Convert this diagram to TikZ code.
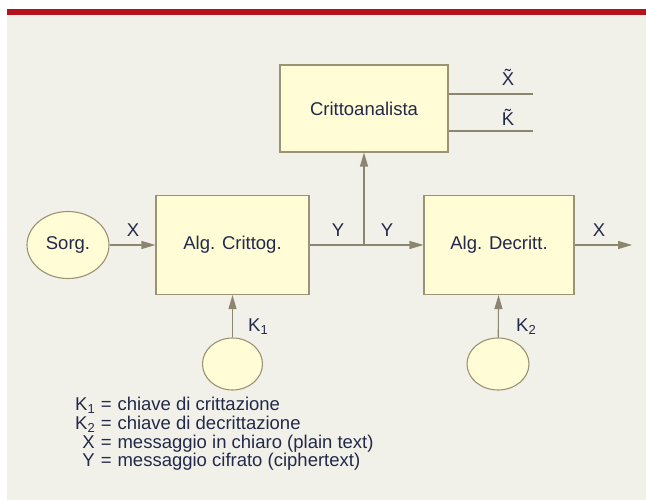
\documentclass[tikz,border=0pt]{standalone}
\usepackage{fontspec}
\setmainfont{Liberation Sans}
\usetikzlibrary{shapes.geometric, arrows.meta, positioning}
\definecolor{barred}{HTML}{B5121B}
\definecolor{panel}{HTML}{F2F1E9}
\definecolor{boxfill}{HTML}{FFFCD6}
\definecolor{boxline}{HTML}{9C9274}
\definecolor{wire}{HTML}{8C8670}
\definecolor{ink}{HTML}{23294A}
\newcommand{\sub}[1]{\raisebox{-0.3ex}{\fontsize{13}{13}\selectfont #1}}

\begin{document}
\begin{tikzpicture}[x=1pt, y=-1pt, font=\fontsize{18.5}{20}\selectfont, text=ink]
		\tikzstyle{Block} = [rectangle, draw=boxline, fill=boxfill, line width=1.1pt, text centered]
		\tikzstyle{Source} = [ellipse, draw=boxline, fill=boxfill, line width=1.1pt, inner sep=0pt]
		\tikzstyle{wire} = [draw=wire, line width=1.1pt]
		\tikzstyle{arrow} = [wire, -{Triangle[length=14pt, width=8pt]}]
		
		% background
		\useasboundingbox (0,0) rectangle (646,500);
		\fill [white] (0,0) rectangle (646,500);
		\fill [panel] (7,15) rectangle (646,500);
		\fill [barred] (7,9) rectangle (646,15);
		
		\node (sorg) [Source, minimum width=82pt, minimum height=67pt] at (68,245) {Sorg.};
		\node (critt) [Block, minimum width=153pt, minimum height=99pt] at (232.5,245) {Alg. Crittog.};
		\node (decr) [Block, minimum width=150pt, minimum height=99pt] at (499,245) {Alg. Decritt.};
		\node (anal) [Block, minimum width=168pt, minimum height=87pt] at (364,108.5) {Crittoanalista};
		\node (k1) [Source, minimum width=60pt, minimum height=52pt] at (232.5,364) {};
		\node (k2) [Source, minimum width=62pt, minimum height=52pt] at (498,364) {};
		
		\coordinate (split) at (364,245);
		\coordinate (xout) at (632,245);
		\coordinate (xt) at (533,94);
		\coordinate (kt) at (533,131);
		
		\draw [arrow] (sorg) -- (critt);
		\draw [wire] (critt) -- (split);
		\draw [arrow] (split) -- (decr);
		\draw [arrow] (split) -- (anal);
		\draw [arrow] (decr) -- (xout);
		\draw [arrow] (k1) -- (critt);
		\draw [arrow] (k2) -- (decr);
		\draw [wire] (anal.east |- xt) -- (xt);
		\draw [wire] (anal.east |- kt) -- (kt);
		
		\node (lx1) at (133,230) {X};
		\node (ly1) at (338,230) {Y};
		\node (ly2) at (387,230) {Y};
		\node (lx2) at (599,230) {X};
		\node (lk1) at (258,327) {K\sub{1}};
		\node (lk2) at (526,327) {K\sub{2}};
		\node (lxt) at (508,77) {\~X};
		\node (lkt) at (508,117) {\~K};
		
		\node (legend) [anchor=north west, inner sep=0pt, font=\fontsize{18.5}{17.7}\selectfont] at (75,397) {%
			\begin{tabular}{@{}r@{\hspace{6pt}=\hspace{6pt}}l@{}}
				K\sub{1} & chiave di crittazione\\
				K\sub{2} & chiave di decrittazione\\
				X & messaggio in chiaro (plain text)\\
				Y & messaggio cifrato (ciphertext)
			\end{tabular}};
		\end{tikzpicture}
\end{document}
